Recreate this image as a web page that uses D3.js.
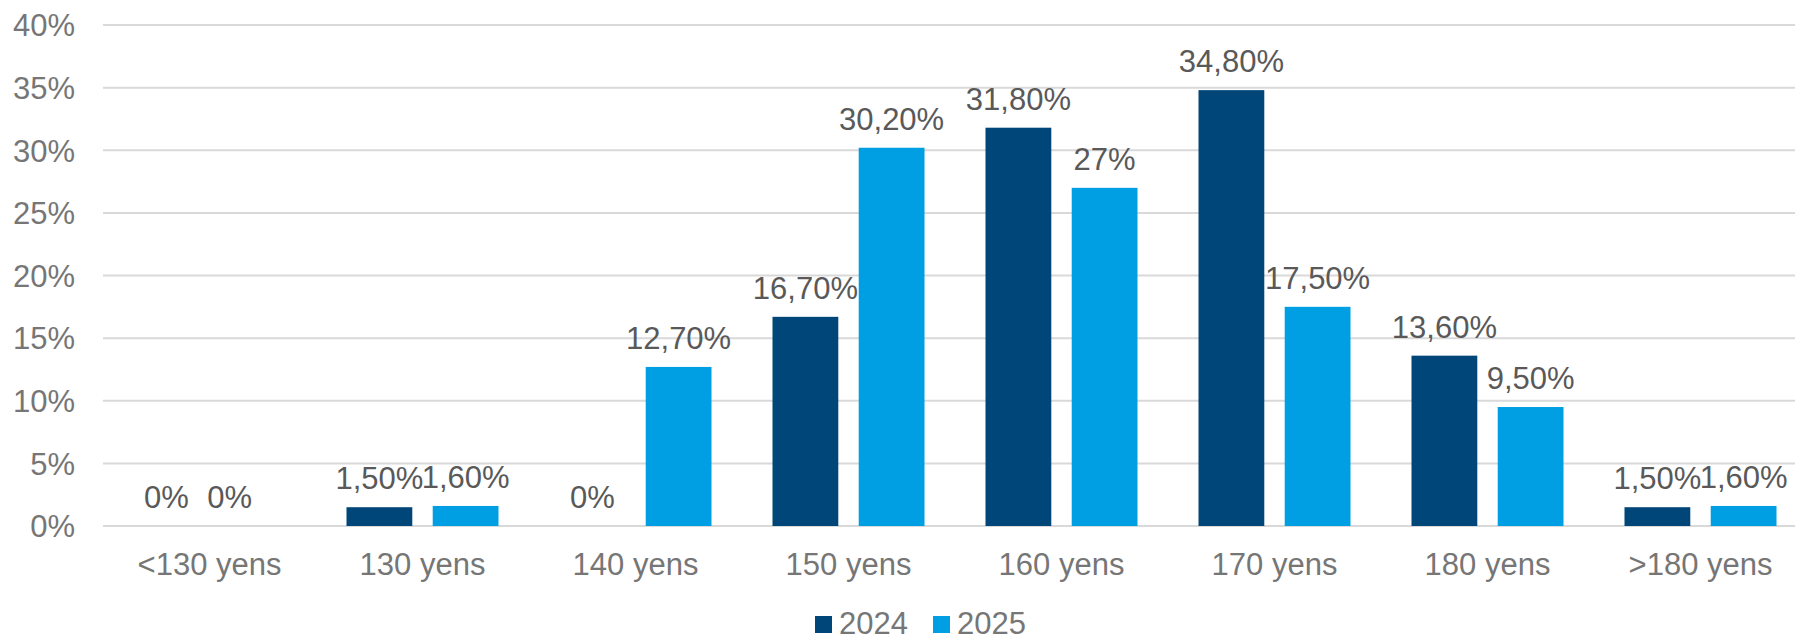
<!DOCTYPE html>
<html><head><meta charset="utf-8">
<script src="https://cdn.jsdelivr.net/npm/d3@7"></script>
<style>body{margin:0;background:#fff;overflow:hidden}svg{display:block}</style>
</head><body>
<svg id="chart" width="1795" height="634"></svg>
<script>
const categories = ["<130 yens","130 yens","140 yens","150 yens","160 yens","170 yens","180 yens",">180 yens"];
const series2024 = [0, 1.5, 0, 16.7, 31.8, 34.8, 13.6, 1.5];
const series2025 = [0, 1.6, 12.7, 30.2, 27, 17.5, 9.5, 1.6];
const seriesNames = ["2024","2025"];
const yTicks = [0,5,10,15,20,25,30,35,40];

const colors = {"2024":"#004679","2025":"#009FE3"};
const svg = d3.select("#chart");
const font = "'Liberation Sans', Arial, sans-serif";
const fs = 31;

const x0 = 103, step = 213;
const x = d3.scaleBand().domain(categories).range([x0, x0 + step*categories.length]).paddingInner(0).paddingOuter(0);
const xs = d3.scaleBand().domain(seriesNames).range([-76, 76]).paddingInner(18/152*2).paddingOuter(0);
const y = d3.scaleLinear().domain([0,40]).range([526, 25]);

// gridlines
svg.append("g").selectAll("line").data(yTicks).join("line")
  .attr("x1", x0).attr("x2", 1795)
  .attr("y1", d=>y(d)).attr("y2", d=>y(d))
  .attr("stroke","#d9d9d9").attr("stroke-width",2);

// y axis
const yAxis = d3.axisLeft(y).tickValues(yTicks).tickFormat(d=>d+"%").tickSize(0).tickPadding(0);
const ya = svg.append("g").attr("transform","translate(75,0)").call(yAxis);
ya.select(".domain").remove();
ya.selectAll("text").attr("font-family",font).attr("font-size",fs).attr("fill","#767676").attr("dy","0.35em");

// x axis
const xAxis = d3.axisBottom(x).tickSize(0).tickPadding(0);
const xa = svg.append("g").attr("transform","translate(0,575)").call(xAxis);
xa.select(".domain").remove();
xa.selectAll("text").attr("font-family",font).attr("font-size",fs).attr("fill","#767676").attr("dy","0");

const rows = [];
categories.forEach((c,i)=>{
  rows.push({cat:c, s:"2024", v:series2024[i], i});
  rows.push({cat:c, s:"2025", v:series2025[i], i});
});
const cx = d => x(d.cat) + x.bandwidth()/2 + xs(d.s);

svg.append("g").selectAll("rect").data(rows.filter(d=>d.v>0)).join("rect")
  .attr("x", cx).attr("width", xs.bandwidth())
  .attr("y", d=>y(d.v)).attr("height", d=>y(0)-y(d.v))
  .attr("fill", d=>colors[d.s]);

// label nudge: the first-category 2025 zero label sits a little left in the original
const labelDx = d => (d.i===0 && d.s==="2025") ? -23 : 0;
const fmt = v => Number.isInteger(v) ? v+"%" : v.toFixed(2).replace(".",",")+"%";
svg.append("g").selectAll("text").data(rows).join("text")
  .attr("x", d=>cx(d)+xs.bandwidth()/2 + labelDx(d)).attr("y", d=>y(d.v)-18)
  .attr("text-anchor","middle").attr("font-family",font).attr("font-size",fs)
  .attr("fill","#595959").text(d=>fmt(d.v));

// legend
const lg = svg.append("g");
const legendX = [815, 933];
seriesNames.forEach((s,i)=>{
  lg.append("rect").attr("x",legendX[i]).attr("y",616).attr("width",17).attr("height",17).attr("fill",colors[s]);
  lg.append("text").attr("x",legendX[i]+24).attr("y",634).attr("font-family",font).attr("font-size",fs).attr("fill","#767676").text(s);
});
</script>
</body></html>
